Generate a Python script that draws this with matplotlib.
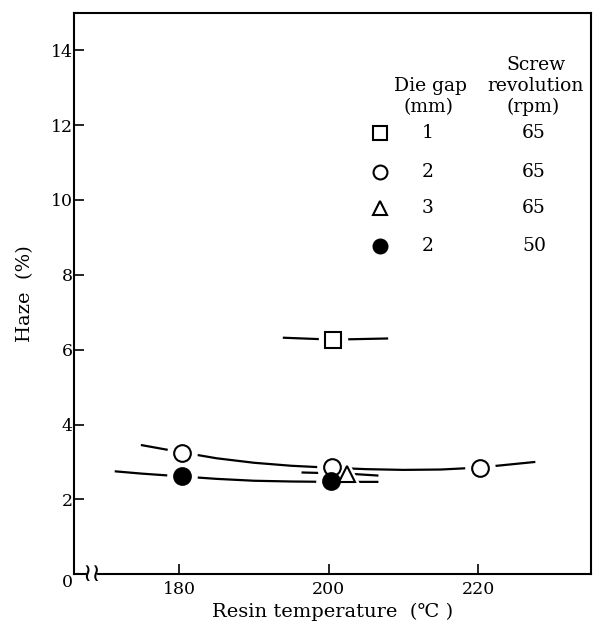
import matplotlib.pyplot as plt

plt.rcParams["font.family"] = ["DejaVu Serif", "DejaVu Sans"]

# Points (resin temperature, haze)
sq_x, sq_y = [200.5], [6.25]
oc_x, oc_y = [180.3, 200.4, 220.3], [3.25, 2.87, 2.85]
tr_x, tr_y = [202.5], [2.68]
fc_x, fc_y = [180.3, 200.3], [2.62, 2.50]

# hand-drawn trend curves
sq_line_x = [194.0, 200.5, 207.8]
sq_line_y = [6.32, 6.27, 6.30]
oc_line_x = [175.0, 180.0, 185.0, 190.0, 195.0, 200.0, 205.0, 210.0, 215.0, 220.0, 224.0, 227.5]
oc_line_y = [3.45, 3.27, 3.10, 2.98, 2.90, 2.85, 2.81, 2.79, 2.80, 2.85, 2.93, 3.00]
fc_line_x = [171.5, 175.0, 180.0, 185.0, 190.0, 195.0, 200.0, 203.0, 206.5]
fc_line_y = [2.75, 2.69, 2.62, 2.55, 2.50, 2.48, 2.47, 2.47, 2.47]
tr_line_x = [196.5, 202.5, 206.5]
tr_line_y = [2.72, 2.69, 2.64]

# legend table
die_gap = ["1", "2", "3", "2"]
rpm = ["65", "65", "65", "50"]
leg_markers = [("s", "white"), ("o", "white"), ("^", "white"), ("o", "black")]

fig = plt.figure(figsize=(6.04, 6.41), dpi=100)
ax = fig.add_axes([0.1225, 0.104, 0.856, 0.876])

lw = 1.6
for lx, ly in [(sq_line_x, sq_line_y), (oc_line_x, oc_line_y),
               (fc_line_x, fc_line_y), (tr_line_x, tr_line_y)]:
    ax.plot(lx, ly, color="black", lw=lw, zorder=2)

# white halo so the curves break around the symbols
def pts(x, y, m, fc, ms):
    ax.plot(x, y, m, ms=ms + 9, color="white", mec="white", zorder=3)
    ax.plot(x, y, m, ms=ms, mfc=fc, mec="black", mew=1.5, zorder=4)

pts(sq_x, sq_y, "s", "white", 11)
pts(oc_x, oc_y, "o", "white", 12)
pts(fc_x, fc_y, "o", "black", 12)
pts(tr_x, tr_y, "^", "white", 11)

ax.set_xlim(165.9, 235.1)
ax.set_ylim(0, 15)
ax.set_xticks([180, 200, 220])
ax.set_yticks(range(0, 15, 2))
ax.tick_params(direction="in", length=7, width=1.2, labelsize=12.5)
ax.tick_params(axis="x", pad=5)
ax.tick_params(axis="y", pad=1)
ax.yaxis.get_major_ticks()[0].label1.set_verticalalignment("top")
for s in ax.spines.values():
    s.set_linewidth(1.5)

ax.set_xlabel("Resin temperature  (\u2103 )", fontsize=14, labelpad=3)
ax.set_ylabel("Haze  (%)", fontsize=14, labelpad=12)

# axis break symbol
tf = ax.transAxes
ax.plot([0.029, 0.041], [0, 0], color="white", lw=3, transform=tf, clip_on=False, zorder=5)
ax.text(0.035, 0.0, "\u2240\u2240", transform=tf, ha="center", va="center",
        fontsize=18, family="DejaVu Sans", zorder=6)

# legend drawn as a small table
fs = 13.5
ax.text(0.893, 0.907, "Screw", transform=tf, ha="center", va="center", fontsize=fs)
ax.text(0.690, 0.870, "Die gap", transform=tf, ha="center", va="center", fontsize=fs)
ax.text(0.893, 0.870, "revolution", transform=tf, ha="center", va="center", fontsize=fs)
ax.text(0.686, 0.833, "(mm)", transform=tf, ha="center", va="center", fontsize=fs)
ax.text(0.889, 0.833, "(rpm)", transform=tf, ha="center", va="center", fontsize=fs)
row_y = [0.786, 0.717, 0.653, 0.584]
for (m, fc), g, r, yy in zip(leg_markers, die_gap, rpm, row_y):
    ax.plot([0.592], [yy], m, ms=10, mfc=fc, mec="black", mew=1.5, transform=tf, clip_on=False)
    ax.text(0.684, yy, g, transform=tf, ha="center", va="center", fontsize=fs)
    ax.text(0.890, yy, r, transform=tf, ha="center", va="center", fontsize=fs)

fig.savefig("out.png", dpi=100)
